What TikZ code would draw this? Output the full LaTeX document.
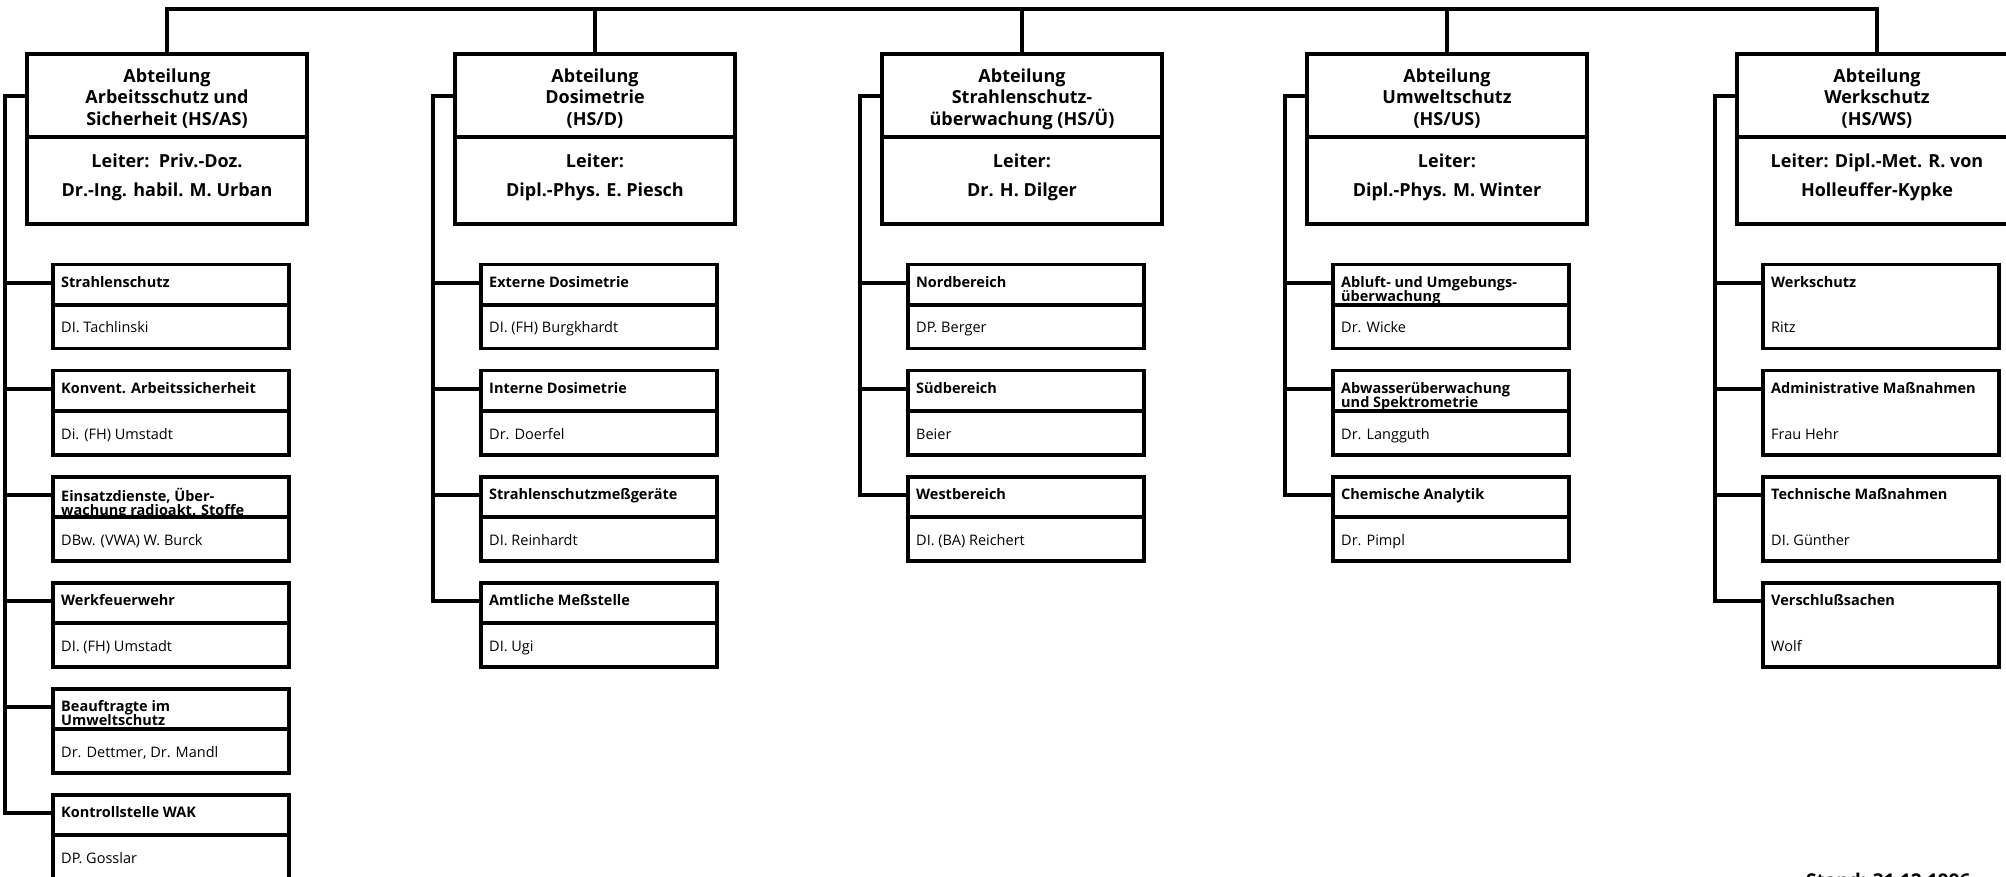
\documentclass[tikz,border=0pt]{standalone}
\usepackage{fontspec}
\setmainfont{Open Sans}
\tikzset{
  headbox/.style={draw, line width=4.5pt, minimum width=280pt, minimum height=170pt, inner sep=0pt, anchor=north},
  headrule/.style={line width=4pt},
  headtext/.style={align=center, inner sep=0pt, anchor=north},
  unitbox/.style={draw, line width=3.5pt, minimum width=236pt, minimum height=84pt, inner sep=0pt, anchor=north west},
  unitrule/.style={line width=3.5pt},
  unittitle/.style={font=\fontsize{14.5}{14.5}\selectfont\bfseries, align=left, inner sep=0pt, anchor=north west},
  unitname/.style={font=\fontsize{14.5}{14.5}\selectfont, inner sep=0pt, anchor=base west},
  link/.style={line width=3.5pt, line cap=rect},
}
% department head box: name, centre x, department text, head-of-department text
\newcommand\HeadUnit[4]{%
  \node[headbox] (#1) at (#2,52) {};
  \draw[headrule] ([yshift=-85pt]#1.north west) -- ([yshift=-85pt]#1.north east);
  \node[headtext, font=\fontsize{18}{21.5}\selectfont\bfseries] (#1-t) at ([yshift=-16pt]#1.north) {\rule{0pt}{14pt}#3};
  \node[headtext, font=\fontsize{18}{29}\selectfont\bfseries] (#1-l) at ([yshift=-101pt]#1.north) {\rule{0pt}{14pt}#4};
  \coordinate (#1-h) at ([yshift=-44pt]#1.north west);
  \coordinate (#1-r) at ([xshift=-20pt]#1-h);
  \draw[link] (#1.north) -- (#1.north |- bus);
}
% group box with divider: name, rail, x, y, title, person
\newcommand\SubUnit[6]{%
  \node[unitbox] (#1) at (#3,#4) {};
  \draw[unitrule] ([yshift=-42pt]#1.north west) -- ([yshift=-42pt]#1.north east);
  \node[unittitle] (#1-a) at ([xshift=10pt,yshift=-13pt]#1.north west) {\rule{0pt}{11pt}#5};
  \node[unitname] (#1-b) at ([xshift=10pt,yshift=-70pt]#1.north west) {#6};
  \coordinate (#1-c) at ([yshift=-20pt]#1.north west);
  \draw[link] (#2 |- #1-c) -- (#1-c);
}
% group box without divider
\newcommand\PlainUnit[6]{%
  \node[unitbox] (#1) at (#3,#4) {};
  \node[unittitle] (#1-a) at ([xshift=10pt,yshift=-13pt]#1.north west) {\rule{0pt}{11pt}#5};
  \node[unitname] (#1-b) at ([xshift=10pt,yshift=-70pt]#1.north west) {#6};
  \coordinate (#1-c) at ([yshift=-20pt]#1.north west);
  \draw[link] (#2 |- #1-c) -- (#1-c);
}
% rail from a department box down to its last group
\newcommand\Rail[2]{%
  \draw[link] (#1-h) -- (#1-r) -- (#1-r |- #2-c);
}
\begin{document}
\begin{tikzpicture}[x=1pt, y=-1pt]
  \useasboundingbox (0,0) rectangle (2006,877);
  \fill[white] (0,0) rectangle (2006,877);
  \coordinate (bus) at (0,9);

  % departments
  \HeadUnit{hAS}{167}{Abteilung\\Arbeitsschutz und\\Sicherheit (HS/AS)}{Leiter:\ \ Priv.-Doz.\\Dr.-Ing. habil. M. Urban}
  \HeadUnit{hD}{595}{Abteilung\\Dosimetrie\\(HS/D)}{Leiter:\\Dipl.-Phys. E. Piesch}
  \HeadUnit{hU}{1022}{Abteilung\\Strahlenschutz-\\überwachung (HS/Ü)}{Leiter:\\Dr. H. Dilger}
  \HeadUnit{hUS}{1447}{Abteilung\\Umweltschutz\\(HS/US)}{Leiter:\\Dipl.-Phys. M. Winter}
  \HeadUnit{hWS}{1877}{Abteilung\\Werkschutz\\(HS/WS)}{Leiter: Dipl.-Met. R. von\\Holleuffer-Kypke}
  \draw[link] (hAS.north |- bus) -- (hWS.north |- bus);

  % Arbeitsschutz und Sicherheit
  \SubUnit{as1}{hAS-r}{51}{263}{Strahlenschutz}{DI. Tachlinski}
  \SubUnit{as2}{hAS-r}{51}{369}{Konvent. Arbeitssicherheit}{Di. (FH) Umstadt}
  \SubUnit{as3}{hAS-r}{51}{475}{Einsatzdienste, Über-\\wachung radioakt. Stoffe}{DBw. (VWA) W. Burck}
  \SubUnit{as4}{hAS-r}{51}{581}{Werkfeuerwehr}{DI. (FH) Umstadt}
  \SubUnit{as5}{hAS-r}{51}{687}{Beauftragte im\\Umweltschutz}{Dr. Dettmer, Dr. Mandl}
  \SubUnit{as6}{hAS-r}{51}{793}{Kontrollstelle WAK}{DP. Gosslar}
  \Rail{hAS}{as6}

  % Dosimetrie
  \SubUnit{d1}{hD-r}{479}{263}{Externe Dosimetrie}{DI. (FH) Burgkhardt}
  \SubUnit{d2}{hD-r}{479}{369}{Interne Dosimetrie}{Dr. Doerfel}
  \SubUnit{d3}{hD-r}{479}{475}{Strahlenschutzmeßgeräte}{DI. Reinhardt}
  \SubUnit{d4}{hD-r}{479}{581}{Amtliche Meßstelle}{DI. Ugi}
  \Rail{hD}{d4}

  % Strahlenschutzüberwachung
  \SubUnit{u1}{hU-r}{906}{263}{Nordbereich}{DP. Berger}
  \SubUnit{u2}{hU-r}{906}{369}{Südbereich}{Beier}
  \SubUnit{u3}{hU-r}{906}{475}{Westbereich}{DI. (BA) Reichert}
  \Rail{hU}{u3}

  % Umweltschutz
  \SubUnit{us1}{hUS-r}{1331}{263}{Abluft- und Umgebungs-\\überwachung}{Dr. Wicke}
  \SubUnit{us2}{hUS-r}{1331}{369}{Abwasserüberwachung\\und Spektrometrie}{Dr. Langguth}
  \SubUnit{us3}{hUS-r}{1331}{475}{Chemische Analytik}{Dr. Pimpl}
  \Rail{hUS}{us3}

  % Werkschutz
  \PlainUnit{ws1}{hWS-r}{1761}{263}{Werkschutz}{Ritz}
  \PlainUnit{ws2}{hWS-r}{1761}{369}{Administrative Maßnahmen}{Frau Hehr}
  \PlainUnit{ws3}{hWS-r}{1761}{475}{Technische Maßnahmen}{DI. Günther}
  \PlainUnit{ws4}{hWS-r}{1761}{581}{Verschlußsachen}{Wolf}
  \Rail{hWS}{ws4}

  % date line at the foot of the sheet
  \node[font=\fontsize{19}{19}\selectfont\bfseries, inner sep=0pt, anchor=base west] (stand) at (1806,887) {Stand: 31.12.1996};
\end{tikzpicture}
\end{document}
